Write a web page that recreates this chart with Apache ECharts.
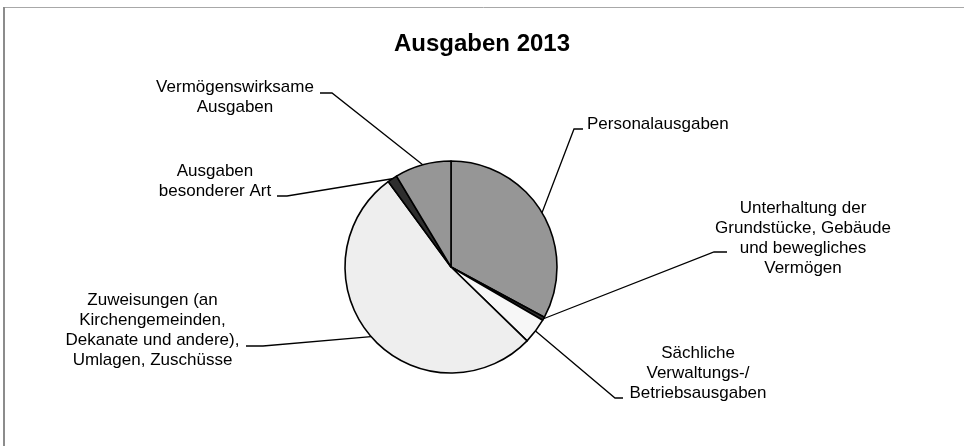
<!DOCTYPE html>
<html>
<head>
<meta charset="utf-8">
<script src="https://cdn.jsdelivr.net/npm/echarts@6/dist/echarts.min.js"></script>
<style>
  html, body { margin: 0; padding: 0; background: #fff; }
  #chart { width: 964px; height: 446px; }
</style>
</head>
<body>
<div id="chart"></div>
<script>
// ---- Data ----
const title = 'Ausgaben 2013';
const categories = [
  'Personalausgaben',
  'Unterhaltung der Grundstücke, Gebäude und bewegliches Vermögen',
  'Sächliche Verwaltungs-/Betriebsausgaben',
  'Zuweisungen (an Kirchengemeinden, Dekanate und andere), Umlagen, Zuschüsse',
  'Ausgaben besonderer Art',
  'Vermögenswirksame Ausgaben'
];
const labelTexts = [
  'Personalausgaben',
  'Unterhaltung der\nGrundstücke, Gebäude\nund bewegliches\nVermögen',
  'Sächliche\nVerwaltungs-/\nBetriebsausgaben',
  'Zuweisungen (an\nKirchengemeinden,\nDekanate und andere),\nUmlagen, Zuschüsse',
  'Ausgaben\nbesonderer Art',
  'Vermögenswirksame\nAusgaben'
];
const values = [32.9, 0.5, 3.9, 52.7, 1.5, 8.6];

// ---- Styling / placement ----
const sliceColors = ['#969696', '#2e2e2e', '#f7f7f7', '#eeeeee', '#2e2e2e', '#969696'];
const labelPlacement = [
  { x: 587, y: 124, align: 'left',   elbow: [574, 129], end: [583, 129] },
  { x: 803, y: 238.5, align: 'center', elbow: [714, 252], end: [727, 252] },
  { x: 698, y: 373.5, align: 'center', elbow: [615, 398], end: [623, 398] },
  { x: 152.5, y: 330, align: 'center', elbow: [263, 346], end: [246, 346] },
  { x: 215, y: 181.5, align: 'center', elbow: [287, 196], end: [277, 196] },
  { x: 235, y: 97, align: 'center', elbow: [332, 93], end: [320, 93] }
];
const FONT = '"Liberation Sans", Arial, sans-serif';

const chart = echarts.init(document.getElementById('chart'), null, { renderer: 'canvas' });

chart.setOption({
  animation: false,
  backgroundColor: '#ffffff',
  title: {
    text: title,
    left: 'center',
    top: 27,
    textStyle: { fontFamily: FONT, fontSize: 24, fontWeight: 'bold', color: '#000' }
  },
  graphic: [
    { type: 'line', shape: { x1: 3, y1: 7.5, x2: 964, y2: 7.5 }, style: { stroke: '#a8a8a8', lineWidth: 1 } },
    { type: 'line', shape: { x1: 4, y1: 7, x2: 4, y2: 446 }, style: { stroke: '#8c8c8c', lineWidth: 2 } }
  ],
  series: [{
    type: 'pie',
    center: [451, 267],
    radius: 106,
    startAngle: 90,
    clockwise: true,
    avoidLabelOverlap: false,
    emphasis: { disabled: true },
    data: categories.map((name, i) => ({
      name: name,
      value: values[i],
      itemStyle: { color: sliceColors[i] }
    })),
    itemStyle: { borderColor: '#000', borderWidth: 1.6 },
    label: {
      show: true,
      position: 'outside',
      formatter: (p) => labelTexts[p.dataIndex],
      fontFamily: FONT,
      fontSize: 17,
      lineHeight: 20,
      color: '#000'
    },
    labelLine: {
      show: true,
      length: 20,
      length2: 10,
      smooth: false,
      lineStyle: { color: '#000', width: 1.3 }
    },
    labelLayout: function (params) {
      const p = labelPlacement[params.dataIndex];
      const start = params.labelLinePoints ? params.labelLinePoints[0] : p.elbow;
      return {
        x: p.x,
        y: p.y,
        align: p.align,
        verticalAlign: 'middle',
        labelLinePoints: [start, p.elbow, p.end]
      };
    }
  }]
});
</script>
</body>
</html>
